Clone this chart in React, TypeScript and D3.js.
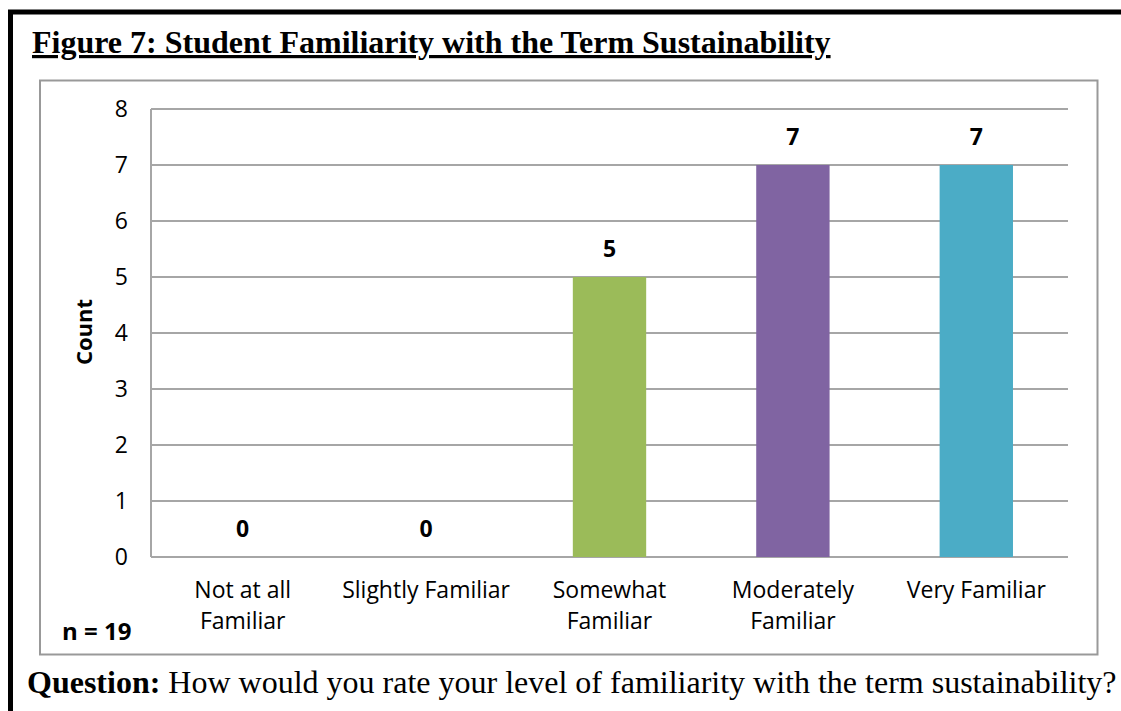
import React from "react";
import * as d3 from "d3";

const categories = ["Not at all Familiar", "Slightly Familiar", "Somewhat Familiar", "Moderately Familiar", "Very Familiar"];
const categoryLines = [["Not at all", "Familiar"], ["Slightly Familiar"], ["Somewhat", "Familiar"], ["Moderately", "Familiar"], ["Very Familiar"]];
const counts = [0, 0, 5, 7, 7];
const barColors = ["#4F81BD", "#C0504D", "#9BBB59", "#8064A2", "#4BACC6"];
const yTicks = [0, 1, 2, 3, 4, 5, 6, 7, 8];

const W = 1121;
const H = 711;
const sans = "'Open Sans', Lato, sans-serif";
const serif = "'Liberation Serif', 'Times New Roman', serif";
const FS = 23;

export default function App() {
  const x = d3.scaleBand<string>().domain(categories).range([151, 1068]).paddingInner(0.6).paddingOuter(0.3);
  const y = d3.scaleLinear().domain([0, 8]).range([557, 109]);
  const grid = "#A6A6A6";
  return (
    <svg width={W} height={H} style={{ position: "absolute", left: 0, top: 0, background: "#fff" }}>
      <rect x={0} y={0} width={W} height={H} fill="#fff" />
      {/* outer black frame */}
      <rect x={10.5} y={12} width={W + 20} height={H + 20} fill="none" stroke="#000" strokeWidth={5} />
      {/* title */}
      <text x={32} y={53} fontFamily={serif} fontWeight="bold" fontSize={32} fill="#000" textDecoration="underline">
        Figure 7: Student Familiarity with the Term Sustainability
      </text>
      {/* chart box */}
      <rect x={40} y={80.5} width={1057.5} height={574} fill="#fff" stroke="#999" strokeWidth={2} />
      {/* gridlines */}
      {yTicks.map((t) => (
        <line key={t} x1={151} x2={1068} y1={y(t)} y2={y(t)} stroke={grid} strokeWidth={2} />
      ))}
      <line x1={151} x2={151} y1={y(8)} y2={y(0)} stroke={grid} strokeWidth={2} />
      {/* y tick labels */}
      {yTicks.map((t) => (
        <text key={t} x={128} y={y(t)} dy="0.36em" textAnchor="end" fontFamily={sans} fontSize={FS} fill="#000">
          {t}
        </text>
      ))}
      <text transform={`translate(92,332) rotate(-90)`} textAnchor="middle" fontFamily={sans} fontWeight="bold" fontSize={FS - 1} fill="#000">
        Count
      </text>
      {/* bars */}
      {categories.map((c, i) => (
        <rect key={c} x={x(c)} y={y(counts[i])} width={x.bandwidth()} height={y(0) - y(counts[i])} fill={barColors[i]} />
      ))}
      {/* value labels */}
      {categories.map((c, i) => (
        <text key={c} x={(x(c) as number) + x.bandwidth() / 2} y={y(counts[i]) - 20} textAnchor="middle" fontFamily={sans} fontWeight="bold" fontSize={FS} fill="#000">
          {counts[i]}
        </text>
      ))}
      {/* category labels */}
      {categories.map((c, i) => (
        <text key={c} textAnchor="middle" fontFamily={sans} fontSize={FS} fill="#000">
          {categoryLines[i].map((ln, j) => (
            <tspan key={j} x={(x(c) as number) + x.bandwidth() / 2} y={598 + j * 31}>
              {ln}
            </tspan>
          ))}
        </text>
      ))}
      <text x={62} y={640} fontFamily={sans} fontWeight="bold" fontSize={FS + 1} fill="#000">
        n = 19
      </text>
      {/* question */}
      <text x={27} y={693} fontFamily={serif} fontSize={32} fill="#000">
        <tspan fontWeight="bold">Question:</tspan> How would you rate your level of familiarity with the term sustainability?
      </text>
    </svg>
  );
}
